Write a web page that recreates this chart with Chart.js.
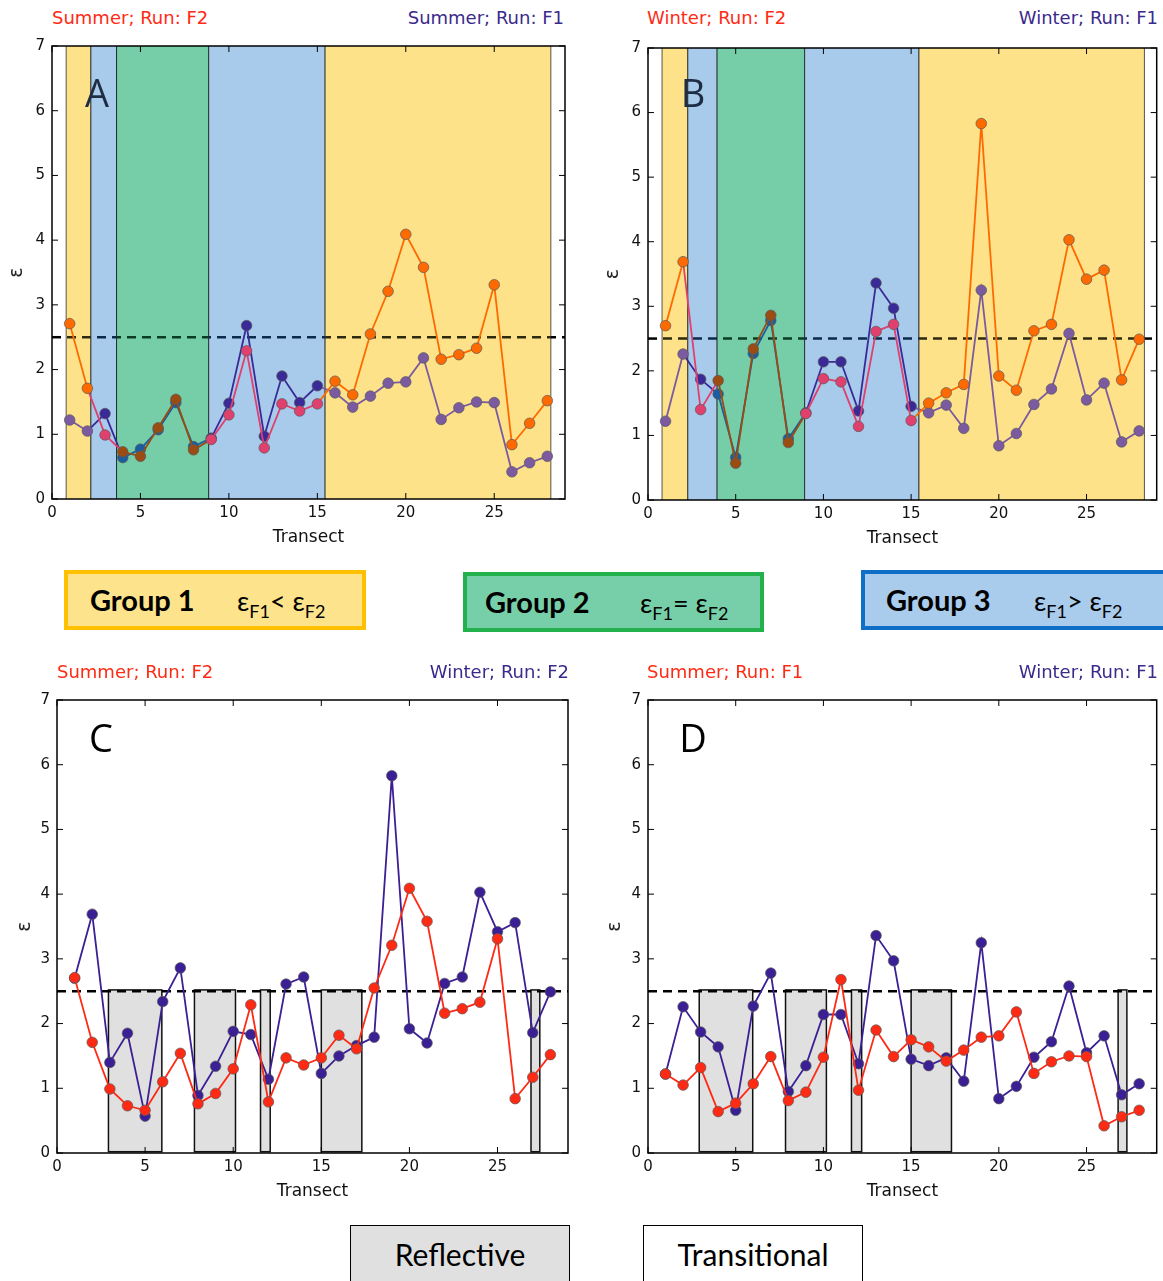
<!DOCTYPE html>
<html>
<head>
<meta charset="utf-8">
<script src="https://cdn.jsdelivr.net/npm/chart.js@4.4.0/dist/chart.umd.min.js"></script>
<style>
body { margin: 0; background: #fff; }
#page { position: relative; width: 1163px; height: 1281px; overflow: hidden; font-family: "DejaVu Sans", sans-serif; }
canvas { position: absolute; }
.t { position: absolute; font-size: 18px; line-height: 20px; white-space: nowrap; }
.red { color: #ff2a14; }
.navy { color: #3b2a8c; }
.letter { position: absolute; font-family: "Open Sans", sans-serif; font-size: 38px; line-height: 40px; transform: translate(-50%, -50%); }
.grp { position: absolute; box-sizing: border-box; height: 60px; border-width: 4px; border-style: solid; font-family: Lato, sans-serif; white-space: nowrap; }
.grp b { position: absolute; top: 8px; font-size: 29px; }
.grp span { position: absolute; top: 10px; font-size: 27px; }
.grp sub { font-size: 18px; vertical-align: -7px; }
.box { position: absolute; box-sizing: border-box; width: 220px; height: 70px; border: 1.5px solid #000; font-family: Lato, sans-serif; font-size: 30px; text-align: center; padding-top: 10px; }
</style>
</head>
<body>
<div id="page">
  <canvas id="chartA" width="580" height="519" style="left:0px;top:30px"></canvas>
  <canvas id="chartB" width="573" height="520" style="left:590px;top:30px"></canvas>
  <canvas id="chartC" width="580" height="523" style="left:0px;top:680px"></canvas>
  <canvas id="chartD" width="573" height="523" style="left:590px;top:680px"></canvas>

  <div class="t red" style="left:52px;top:8px">Summer; Run: F2</div>
  <div class="t navy" style="right:599px;top:8px">Summer; Run: F1</div>
  <div class="t red" style="left:647px;top:8px">Winter; Run: F2</div>
  <div class="t navy" style="right:5px;top:8px">Winter; Run: F1</div>
  <div class="t red" style="left:57px;top:662px">Summer; Run: F2</div>
  <div class="t navy" style="right:594px;top:662px">Winter; Run: F2</div>
  <div class="t red" style="left:647px;top:662px">Summer; Run: F1</div>
  <div class="t navy" style="right:5px;top:662px">Winter; Run: F1</div>

  <div class="letter" style="left:97px;top:92px;color:#1e2d44">A</div>
  <div class="letter" style="left:693px;top:92px;color:#1e2d44">B</div>
  <div class="letter" style="left:101px;top:737px;color:#000">C</div>
  <div class="letter" style="left:693px;top:737px;color:#000">D</div>

  <div class="grp" style="left:64px;top:570px;width:302px;background:#fde38b;border-color:#ffc000">
    <b style="left:22px">Group 1</b><span style="left:169px">ε<sub>F1</sub>&lt; ε<sub>F2</sub></span>
  </div>
  <div class="grp" style="left:463px;top:572px;width:301px;background:#77cfa9;border-color:#22b14c">
    <b style="left:18px">Group 2</b><span style="left:173px">ε<sub>F1</sub>= ε<sub>F2</sub></span>
  </div>
  <div class="grp" style="left:861px;top:570px;width:310px;background:#a9cbec;border-color:#0f6fc6">
    <b style="left:21px">Group 3</b><span style="left:169px">ε<sub>F1</sub>&gt; ε<sub>F2</sub></span>
  </div>

  <div class="box" style="left:350px;top:1225px;background:#e0e0e0">Reflective</div>
  <div class="box" style="left:643px;top:1225px;background:#fff">Transitional</div>
</div>

<script>
// Transect numbers and the four epsilon series
const transects = [1, 2, 3, 4, 5, 6, 7, 8, 9, 10, 11, 12, 13, 14, 15, 16, 17, 18, 19, 20, 21, 22, 23, 24, 25, 26, 27, 28];
const summerF2 = [2.71, 1.71, 0.99, 0.73, 0.66, 1.10, 1.54, 0.76, 0.92, 1.30, 2.29, 0.79, 1.47, 1.36, 1.47, 1.82, 1.61, 2.55, 3.21, 4.09, 3.58, 2.16, 2.23, 2.33, 3.31, 0.84, 1.17, 1.52];
const summerF1 = [1.22, 1.05, 1.32, 0.64, 0.77, 1.07, 1.49, 0.81, 0.94, 1.48, 2.68, 0.97, 1.90, 1.49, 1.75, 1.64, 1.42, 1.59, 1.79, 1.81, 2.18, 1.23, 1.41, 1.50, 1.49, 0.42, 0.56, 0.66];
const winterF2 = [2.70, 3.69, 1.40, 1.85, 0.57, 2.34, 2.86, 0.89, 1.34, 1.88, 1.83, 1.14, 2.61, 2.72, 1.23, 1.50, 1.66, 1.79, 5.83, 1.92, 1.70, 2.62, 2.72, 4.03, 3.42, 3.56, 1.86, 2.49];
const winterF1 = [1.22, 2.26, 1.87, 1.64, 0.66, 2.27, 2.78, 0.95, 1.35, 2.14, 2.14, 1.38, 3.36, 2.97, 1.45, 1.35, 1.47, 1.11, 3.25, 0.84, 1.03, 1.48, 1.72, 2.58, 1.55, 1.81, 0.90, 1.07];

const threshold = 2.5;

// Group bands for panels A and B: [from, to, group]
const bandsA = [[0.8, 2.2, 'g1'], [2.2, 3.65, 'g3'], [3.65, 8.86, 'g2'], [8.86, 15.44, 'g3'], [15.44, 28.2, 'g1']];
const bandsB = [[0.8, 2.27, 'g1'], [2.27, 3.94, 'g3'], [3.94, 8.93, 'g2'], [8.93, 15.45, 'g3'], [15.45, 28.3, 'g1']];

// Reflective transect ranges for panels C and D
const reflectC = [[2.92, 5.95], [7.8, 10.13], [11.55, 12.1], [15.0, 17.3], [26.9, 27.4]];
const reflectD = [[2.92, 5.97], [7.84, 10.17], [11.6, 12.18], [15.0, 17.3], [26.8, 27.3]];

const RED = '#ff2a14';
const NAVY = '#3b1f94';
const bandFill = { g1: '#fde28a', g2: '#76cea8', g3: '#a8cbec' };
const dashColor = { g1: '#2e2a10', g2: '#0c3d22', g3: '#0b2a4e' };
// line colours as they appear over each band
const tint = {
    red: { g1: '#ff6a00', g2: '#9a4c12', g3: '#e0406e' },
    navy: { g1: '#7b5aa0', g2: '#1b5ea0', g3: '#3a2a98' }
};

function groupAt(bands, xv) {
    const b = bands.find(b => xv >= b[0] && xv < b[1]);
    return b ? b[2] : null;
}

function points(vals) {
    return transects.map((t, i) => ({ x: t, y: vals[i] }));
}

// Bands, reflective boxes, the dashed threshold, then frame and inward ticks
const panelPlugin = {
    id: 'panel',
    beforeDatasetsDraw(chart, args, opts) {
        const { ctx, chartArea: a, scales: { x, y } } = chart;
        ctx.save();
        (opts.bands || []).forEach(b => {
            const x0 = x.getPixelForValue(b[0]);
            const x1 = x.getPixelForValue(b[1]);
            ctx.fillStyle = bandFill[b[2]];
            ctx.fillRect(x0, a.top, x1 - x0, a.bottom - a.top);
            ctx.strokeStyle = 'rgba(0,0,0,0.65)';
            ctx.lineWidth = 1;
            ctx.beginPath();
            ctx.moveTo(x0, a.top); ctx.lineTo(x0, a.bottom);
            ctx.moveTo(x1, a.top); ctx.lineTo(x1, a.bottom);
            ctx.stroke();
        });
        (opts.rects || []).forEach(r => {
            const x0 = x.getPixelForValue(r[0]);
            const x1 = x.getPixelForValue(r[1]);
            const y0 = y.getPixelForValue(0.02);
            const y1 = y.getPixelForValue(threshold + 0.02);
            ctx.fillStyle = '#e0e0e0';
            ctx.fillRect(x0, y1, x1 - x0, y0 - y1);
            ctx.strokeStyle = '#111';
            ctx.lineWidth = 1.5;
            ctx.strokeRect(x0, y1, x1 - x0, y0 - y1);
        });

        // dashed threshold line, coloured per band
        const bands = opts.bands || [];
        const cuts = [x.min];
        bands.forEach(b => { cuts.push(b[0]); cuts.push(b[1]); });
        cuts.push(x.max);
        const yp = y.getPixelForValue(threshold);
        ctx.lineWidth = 2.5;
        ctx.setLineDash([9, 6]);
        for (let i = 0; i < cuts.length - 1; i++) {
            if (cuts[i + 1] <= cuts[i]) continue;
            const g = groupAt(bands, (cuts[i] + cuts[i + 1]) / 2);
            const px0 = x.getPixelForValue(cuts[i]);
            const px1 = x.getPixelForValue(cuts[i + 1]);
            ctx.strokeStyle = g ? dashColor[g] : '#000';
            ctx.lineDashOffset = px0 - a.left;
            ctx.beginPath();
            ctx.moveTo(px0, yp);
            ctx.lineTo(px1, yp);
            ctx.stroke();
        }
        ctx.restore();
    },
    afterDraw(chart) {
        const { ctx, chartArea: a, scales: { x, y } } = chart;
        ctx.save();
        ctx.strokeStyle = '#000';
        ctx.lineWidth = 1;
        ctx.beginPath();
        x.ticks.forEach(t => {
            const px = x.getPixelForValue(t.value);
            ctx.moveTo(px, a.bottom); ctx.lineTo(px, a.bottom - 6);
            ctx.moveTo(px, a.top); ctx.lineTo(px, a.top + 6);
        });
        y.ticks.forEach(t => {
            const py = y.getPixelForValue(t.value);
            ctx.moveTo(a.left, py); ctx.lineTo(a.left + 6, py);
            ctx.moveTo(a.right, py); ctx.lineTo(a.right - 6, py);
        });
        ctx.stroke();
        ctx.lineWidth = 1.5;
        ctx.strokeRect(a.left, a.top, a.right - a.left, a.bottom - a.top);
        ctx.restore();
    }
};

function seriesDataset(vals, colorKey, bands) {
    const base = colorKey === 'red' ? RED : NAVY;
    const pointColors = transects.map(t => {
        const g = bands ? groupAt(bands, t) : null;
        return g ? tint[colorKey][g] : base;
    });
    return {
        data: points(vals),
        borderColor: base,
        borderWidth: 1.8,
        pointRadius: 5.3,
        pointBackgroundColor: pointColors,
        pointBorderColor: 'rgba(90,90,90,0.7)',
        pointBorderWidth: 1,
        tension: 0,
        segment: bands ? {
            borderColor: c => {
                const g = groupAt(bands, (c.p0.parsed.x + c.p1.parsed.x) / 2);
                return g ? tint[colorKey][g] : base;
            }
        } : undefined
    };
}

function makePanel(id, f2, f1, opts) {
    const tickFont = { family: 'DejaVu Sans', size: 15 };
    new Chart(document.getElementById(id), {
        type: 'line',
        data: {
            datasets: [
                seriesDataset(f2, 'red', opts.bands),
                seriesDataset(f1, 'navy', opts.bands)
            ]
        },
        options: {
            responsive: false,
            devicePixelRatio: 1,
            animation: false,
            layout: { padding: { top: opts.padTop, right: opts.padRight, left: 0, bottom: 0 } },
            plugins: {
                legend: { display: false },
                tooltip: { enabled: false },
                panel: { bands: opts.bands, rects: opts.rects }
            },
            scales: {
                x: {
                    type: 'linear', min: 0, max: 29,
                    grid: { display: false, drawTicks: false },
                    border: { display: false },
                    ticks: { stepSize: 5, includeBounds: false, autoSkip: false, maxRotation: 0, padding: 5, font: tickFont, color: '#111' },
                    title: { display: true, text: 'Transect', font: { family: 'DejaVu Sans', size: 17 }, color: '#111', padding: { top: 0, bottom: 1 } },
                    afterFit(s) { s.height = 50; }
                },
                y: {
                    min: 0, max: 7,
                    grid: { display: false, drawTicks: false },
                    border: { display: false },
                    ticks: { stepSize: 1, padding: 7, font: tickFont, color: '#111' },
                    title: { display: true, text: 'ε', font: { family: 'DejaVu Sans', size: 19 }, color: '#222', padding: { top: opts.titlePad, bottom: 0 } },
                    afterFit(s) { s.width = opts.yWidth; }
                }
            }
        },
        plugins: [panelPlugin]
    });
}

makePanel('chartA', summerF2, summerF1, { bands: bandsA, padTop: 15, padRight: 15, yWidth: 52, titlePad: 6 });
makePanel('chartB', winterF2, winterF1, { bands: bandsB, padTop: 18, padRight: 3, yWidth: 58, titlePad: 12 });
makePanel('chartC', summerF2, winterF2, { rects: reflectC, padTop: 20, padRight: 12, yWidth: 57, titlePad: 14 });
makePanel('chartD', summerF1, winterF1, { rects: reflectD, padTop: 20, padRight: 3, yWidth: 58, titlePad: 14 });
</script>
</body>
</html>
